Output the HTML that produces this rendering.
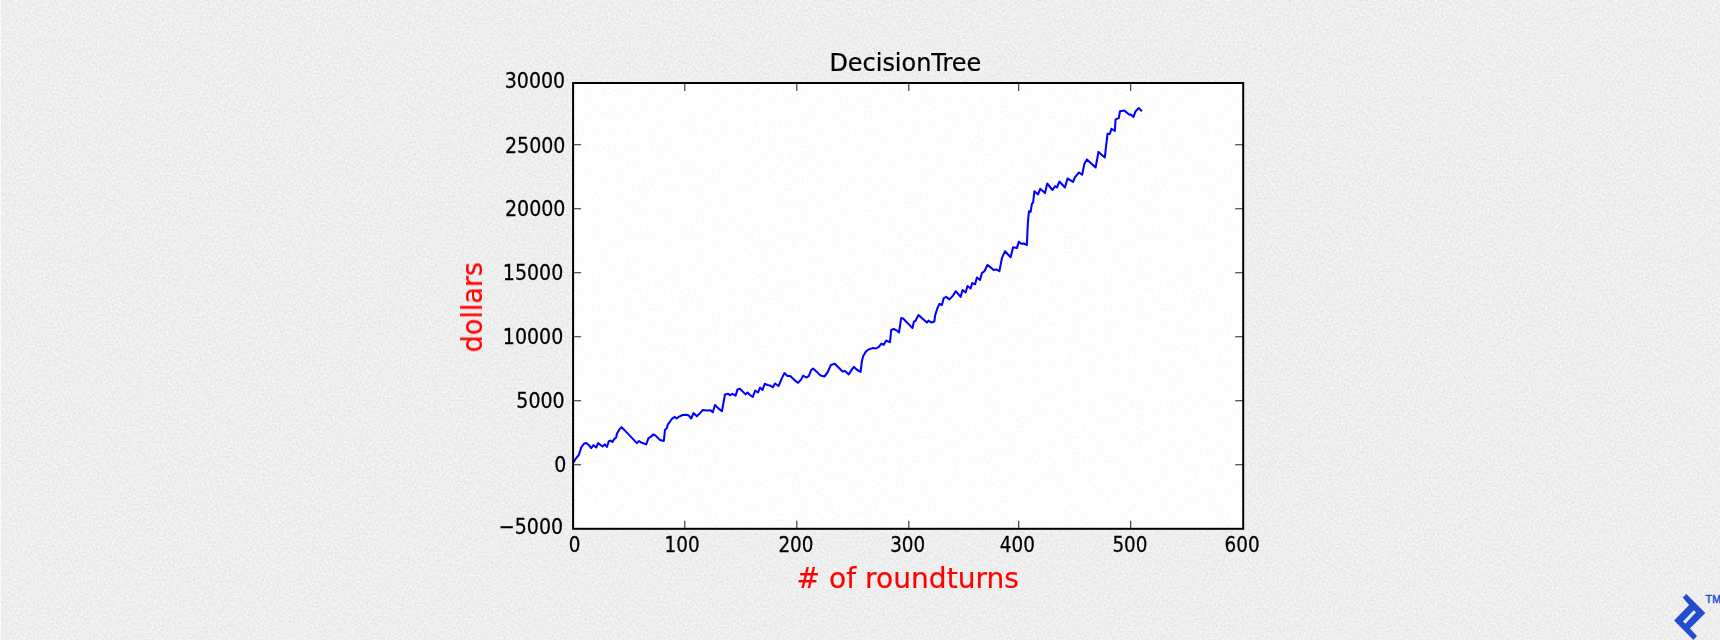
<!DOCTYPE html>
<html><head><meta charset="utf-8"><title>DecisionTree</title>
<style>
html,body{margin:0;padding:0}
body{width:1720px;height:640px;overflow:hidden;background:#eeeeee;position:relative;font-family:"DejaVu Sans","Liberation Sans",sans-serif}
#edge{position:absolute;left:0;top:0;width:1px;height:640px;background:#fbfbfb}
</style></head><body>
<svg width="1720" height="640" viewBox="0 0 1720 640" style="position:absolute;left:0;top:0">
<defs><filter id="nz" x="0" y="0" width="100%" height="100%" color-interpolation-filters="sRGB"><feTurbulence type="fractalNoise" baseFrequency="0.48" numOctaves="1" seed="7"/><feColorMatrix type="matrix" values="0.13 0 0 0 0.868  0.13 0 0 0 0.868  0.13 0 0 0 0.868  0 0 0 0 1"/></filter>
<filter id="nz2" x="0" y="0" width="100%" height="100%" color-interpolation-filters="sRGB"><feTurbulence type="fractalNoise" baseFrequency="0.5" numOctaves="1" seed="11"/><feColorMatrix type="matrix" values="0.07 0 0 0 0.957  0.07 0 0 0 0.957  0.07 0 0 0 0.957  0 0 0 0 1"/></filter>
<filter id="bl2" x="-5%" y="-5%" width="110%" height="110%"><feGaussianBlur stdDeviation="0.45"/></filter>
<filter id="bl" x="-5%" y="-5%" width="110%" height="110%"><feGaussianBlur stdDeviation="0.7"/></filter></defs>
<rect x="0" y="0" width="1720" height="640" filter="url(#nz)"/>
<rect x="573.1" y="83.0" width="670.1" height="445.8" filter="url(#nz2)"/>
<g filter="url(#bl)">
<path d="M684.8 528.8v-8M684.8 83.0v8" stroke="#000" stroke-opacity="0.85" stroke-width="1.05"/>
<path d="M796.8 528.8v-8M796.8 83.0v8" stroke="#000" stroke-opacity="0.85" stroke-width="1.05"/>
<path d="M908.8 528.8v-8M908.8 83.0v8" stroke="#000" stroke-opacity="0.85" stroke-width="1.05"/>
<path d="M1018.7 528.8v-8M1018.7 83.0v8" stroke="#000" stroke-opacity="0.85" stroke-width="1.05"/>
<path d="M1130.7 528.8v-8M1130.7 83.0v8" stroke="#000" stroke-opacity="0.85" stroke-width="1.05"/>
<path d="M573.1 464.8h8M1243.2 464.8h-8" stroke="#000" stroke-opacity="0.85" stroke-width="1.05"/>
<path d="M573.1 400.8h8M1243.2 400.8h-8" stroke="#000" stroke-opacity="0.85" stroke-width="1.05"/>
<path d="M573.1 336.8h8M1243.2 336.8h-8" stroke="#000" stroke-opacity="0.85" stroke-width="1.05"/>
<path d="M573.1 272.8h8M1243.2 272.8h-8" stroke="#000" stroke-opacity="0.85" stroke-width="1.05"/>
<path d="M573.1 208.8h8M1243.2 208.8h-8" stroke="#000" stroke-opacity="0.85" stroke-width="1.05"/>
<path d="M573.1 144.8h8M1243.2 144.8h-8" stroke="#000" stroke-opacity="0.85" stroke-width="1.05"/>
<polyline points="573.5,462.5 575.6,458.8 578.8,455.0 581.2,447.5 583.8,443.8 586.2,443.1 588.8,445.0 591.2,448.1 593.5,445.2 596.2,447.5 598.1,443.1 600.6,445.0 602.5,446.5 604.8,444.4 606.9,446.9 608.8,441.2 610.6,440.6 612.5,441.9 614.4,438.8 616.2,437.5 616.9,433.8 619.4,429.4 621.5,427.2 623.8,429.4 636.9,443.1 639.0,441.0 641.2,442.5 646.2,444.4 648.5,438.1 650.6,436.9 653.5,434.4 655.6,435.6 660.0,440.0 663.8,441.0 665.0,430.0 666.9,428.1 667.8,424.4 669.4,422.5 671.9,418.8 674.8,416.9 676.6,418.5 678.8,416.9 682.5,415.0 686.2,414.8 688.8,415.6 691.2,418.5 693.5,413.1 696.9,416.2 700.0,413.1 702.8,410.0 706.9,410.6 710.6,410.2 712.8,412.2 715.0,405.0 718.1,408.1 721.9,411.2 725.0,394.4 728.1,393.8 730.0,395.2 732.5,393.8 735.6,395.6 737.5,389.4 740.0,388.8 743.1,391.9 745.6,394.4 747.5,392.5 750.0,395.0 752.8,396.9 755.2,390.6 758.1,392.5 760.0,387.5 762.5,390.0 764.8,383.8 767.5,385.0 770.0,385.6 772.8,387.2 775.0,383.5 778.5,386.0 781.9,378.1 784.4,373.1 787.5,376.0 790.2,376.0 795.0,380.6 798.1,382.8 801.2,379.4 803.1,375.6 806.2,377.5 808.8,376.2 811.2,370.0 813.1,368.5 816.9,371.9 820.6,375.6 824.4,376.5 827.5,372.5 830.6,365.6 830.9,365.0 834.8,363.8 838.8,367.8 842.5,371.5 845.0,371.0 848.8,374.4 851.9,369.4 854.0,366.9 857.2,370.0 860.6,371.9 861.9,361.2 863.1,356.2 865.6,351.9 868.1,349.8 872.5,348.1 876.2,348.5 878.8,346.9 881.2,343.8 883.8,344.8 886.2,340.6 890.0,342.2 891.2,330.0 893.8,329.0 896.9,330.6 899.0,332.5 901.2,318.1 903.1,318.5 912.5,328.1 913.8,321.9 915.6,320.6 918.5,315.0 926.9,322.5 928.5,320.6 931.2,322.5 934.4,321.5 935.0,316.2 935.6,313.8 937.5,308.1 939.4,303.8 941.9,305.0 943.8,298.1 946.2,296.9 949.4,299.4 953.1,295.6 955.6,291.2 958.1,293.8 960.6,296.9 962.5,290.0 965.6,292.5 967.5,286.0 970.6,288.5 972.2,283.1 975.0,284.4 976.9,277.5 980.0,280.0 981.9,273.1 984.4,271.2 987.5,265.0 990.0,266.9 993.8,270.0 996.2,269.4 999.4,271.2 1001.9,258.1 1005.0,251.2 1010.6,257.2 1013.1,247.2 1016.9,248.1 1018.8,241.9 1021.2,243.8 1023.8,243.5 1026.9,245.0 1027.5,230.0 1028.1,220.0 1029.0,211.2 1030.6,211.9 1031.9,203.8 1033.1,202.5 1034.4,191.2 1038.1,194.4 1040.2,188.8 1045.0,193.1 1047.2,183.5 1052.5,190.0 1055.0,186.2 1056.9,187.5 1059.4,181.5 1065.0,187.5 1067.5,178.5 1073.1,181.9 1075.0,177.2 1079.0,172.5 1082.2,174.6 1083.1,170.0 1084.4,163.8 1086.9,159.4 1095.6,167.5 1098.5,151.9 1104.8,157.5 1107.5,133.8 1109.8,134.0 1111.5,128.8 1114.8,131.0 1115.6,119.4 1118.8,118.1 1120.0,111.2 1124.4,110.6 1129.4,114.8 1130.6,114.4 1133.5,116.9 1135.6,111.2 1138.8,108.1 1141.9,111.2" fill="none" stroke="#0505ff" stroke-width="2.05" stroke-linejoin="round" stroke-linecap="butt" filter="url(#bl2)"/>
<rect x="573.1" y="83.0" width="670.1" height="445.8" fill="none" stroke="#000" stroke-width="2"/>
<g font-family="DejaVu Sans, Liberation Sans, sans-serif" font-size="22" fill="#000" stroke="#000" stroke-width="0.3" text-anchor="end">
<text transform="translate(563.1,533.90) scale(0.864,1)">−5000</text>
<text transform="translate(566.3,472.15) scale(0.864,1)">0</text>
<text transform="translate(564.7,408.15) scale(0.864,1)">5000</text>
<text transform="translate(563.3,344.15) scale(0.864,1)">10000</text>
<text transform="translate(563.3,280.15) scale(0.864,1)">15000</text>
<text transform="translate(565.4,216.45) scale(0.864,1)">20000</text>
<text transform="translate(565.4,152.55) scale(0.864,1)">25000</text>
<text transform="translate(565.2,87.95) scale(0.864,1)">30000</text>
</g>
<g font-family="DejaVu Sans, Liberation Sans, sans-serif" font-size="22" fill="#000" stroke="#000" stroke-width="0.3" text-anchor="middle">
<text transform="translate(574.5,551.6) scale(0.835,1)">0</text>
<text transform="translate(682.1,551.6) scale(0.835,1)">100</text>
<text transform="translate(795.9,551.6) scale(0.835,1)">200</text>
<text transform="translate(907.7,551.6) scale(0.835,1)">300</text>
<text transform="translate(1017.3,551.6) scale(0.835,1)">400</text>
<text transform="translate(1129.9,551.6) scale(0.835,1)">500</text>
<text transform="translate(1242.1,551.6) scale(0.835,1)">600</text>
</g>
<text font-family="DejaVu Sans, Liberation Sans, sans-serif" font-size="24" fill="#000" stroke="#000" stroke-width="0.25" text-anchor="middle" transform="translate(905.3,71.2) scale(0.998,1)">DecisionTree</text>
<text font-family="DejaVu Sans, Liberation Sans, sans-serif" font-size="28" fill="#ff0000" stroke="#ff0000" stroke-width="0.2" text-anchor="middle" transform="translate(907.8,587.5) scale(1.004,1)"># of roundturns</text>
<text font-family="DejaVu Sans, Liberation Sans, sans-serif" font-size="28" fill="#ff0000" stroke="#ff0000" stroke-width="0.2" text-anchor="middle" transform="translate(482,307.2) rotate(-90) scale(0.962,1)">dollars</text>
</g>
<g fill="#204ecf"><path fill-rule="evenodd" d="M1686.4 593.9L1705.3 613L1689.9 628.4L1697 636.1L1693.4 640L1674.1 620.5L1689.1 605L1682.7 597.6ZM1693.8 610.2L1696 612.3L1685.4 623.75L1683 621.5Z"/>
<text x="1705.4" y="602.8" font-family="Liberation Sans, sans-serif" font-size="10.5" stroke="#204ecf" stroke-width="0.45" letter-spacing="0.4">TM</text></g>
</svg>
<div id="edge"></div>
</body></html>
